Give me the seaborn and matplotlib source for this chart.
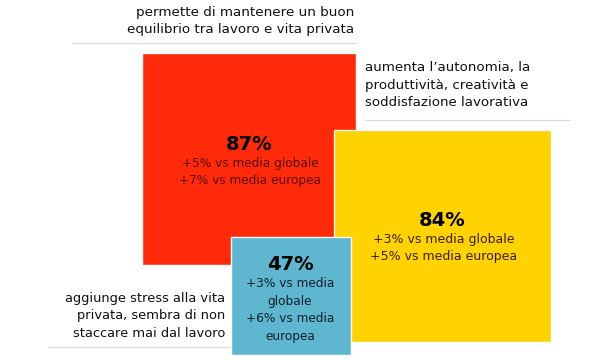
import matplotlib
matplotlib.use("Agg")
import matplotlib.pyplot as plt
from matplotlib.patches import Rectangle
import seaborn as sns

# ---- data ----
categories = [
    "aumenta l\u2019autonomia, la\nproduttivit\u00e0, creativit\u00e0 e\nsoddisfazione lavorativa",
    "permette di mantenere un buon\nequilibrio tra lavoro e vita privata",
    "aggiunge stress alla vita\nprivata, sembra di non\nstaccare mai dal lavoro",
]
values = [87, 84, 47]
vs_globale = [5, 3, 3]
vs_europea = [7, 5, 6]
value_labels = [f"{v}%" for v in values]
sub_labels = [
    f"+{vs_globale[0]}% vs media globale\n+{vs_europea[0]}% vs media europea",
    f"+{vs_globale[1]}% vs media globale\n+{vs_europea[1]}% vs media europea",
    f"+{vs_globale[2]}% vs media\nglobale\n+{vs_europea[2]}% vs media\neuropea",
]

# ---- layout (pixel-like data units, y downward) ----
boxes = [  # x0, y0, x1, y1 for each value box
    (142, 53, 356, 265),
    (334, 130, 551, 342),
    (231, 237, 351, 355),
]
box_colors = ["#FF2A0A", "#FFD300", "#5EB6CF"]
sub_colors = ["#5A0A00", "#3A1E00", "#10202C"]
sub_sizes = [8.7, 9, 8.7]
value_pos = [(249, 144), (442, 220), (290, 265)]
sub_pos = [(250, 172), (444, 248), (290, 310)]
# category label: (x, y, ha, fontsize) and separator lines
cat_text = [(365, 85, "left", 9.6), (354, 21, "right", 9.7), (225, 316, "right", 9.4)]
sep_lines = [(365, 570, 120), (72, 356, 43), (48, 231, 347)]

sns.set_style("white")
plt.rcParams["font.family"] = ["DejaVu Sans"]

fig = plt.figure(figsize=(6, 3.6), dpi=100)
ax = fig.add_axes([0, 0, 1, 1])
ax.set_xlim(0, 600)
ax.set_ylim(360, 0)
ax.axis("off")

# separator lines
for x0, x1, y in sep_lines:
    ax.plot([x0, x1], [y, y], color="#DADADA", lw=0.8, zorder=1)

# category texts
for (x, y, ha, fs), txt in zip(cat_text, categories):
    ax.text(x, y, txt, ha=ha, va="center", fontsize=fs, color="#111111",
            linespacing=1.42, zorder=2)

# boxes
for i, ((x0, y0, x1, y1), c) in enumerate(zip(boxes, box_colors)):
    ax.add_patch(Rectangle((x0, y0), x1 - x0, y1 - y0, facecolor=c,
                           edgecolor="white", lw=1.0, zorder=3 + i))
    vx, vy = value_pos[i]
    ax.text(vx, vy, value_labels[i], ha="center", va="center", fontsize=14,
            fontweight="bold", color="#000000", zorder=10)
    sx, sy = sub_pos[i]
    ax.text(sx, sy, sub_labels[i], ha="center", va="center", fontsize=sub_sizes[i],
            color=sub_colors[i], linespacing=1.45, zorder=10)

fig.savefig("out.png", dpi=100)
